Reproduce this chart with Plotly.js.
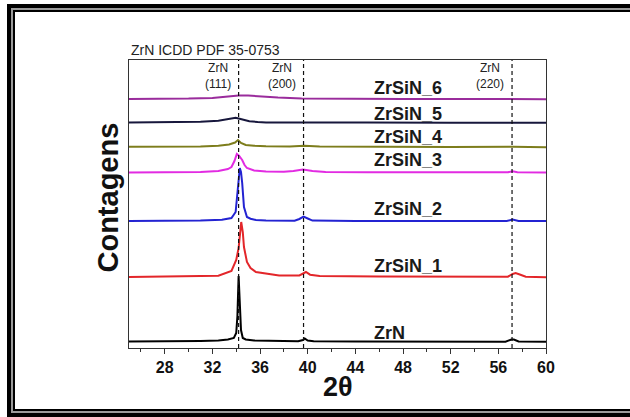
<!DOCTYPE html>
<html>
<head>
<meta charset="utf-8">
<script src="https://cdn.plot.ly/plotly-3.0.1.min.js"></script>
<style>
  html, body { margin: 0; padding: 0; background: #fff; overflow: hidden; }
  #chart { width: 630px; height: 417px; position: absolute; left: 0; top: 0; }
  #frame { position: absolute; left: 7px; top: 4px; width: 640px;
           border: 4px solid #000; box-sizing: border-box; height: 413px;
           box-shadow: inset 0 0 0 2px #9a9a9a, inset 0 0 0 4px #000; pointer-events: none; }
</style>
</head>
<body>
<div id="chart"></div>
<div id="frame"></div>
<script>
// 2θ positions and stacked intensities (arbitrary counts)
const zrnX  = [25, 27, 29, 31, 32.5, 33.3, 33.8, 34.0, 34.1, 34.2, 34.3, 34.4, 34.55, 34.8, 35.5, 37, 39.2, 39.6, 39.75, 40.0, 40.5, 44, 48, 52, 56.6, 57.1, 57.3, 57.7, 60];
const zrnY  = [6.5, 6.5, 6.8, 7, 7.5, 8.5, 10, 15, 32, 72, 45, 18, 10, 8.5, 7.5, 7, 6.8, 8, 9.5, 7.5, 6.8, 6.5, 6.5, 6.3, 6.3, 8.5, 8.5, 6.5, 6.3];

const s1X = [25, 28, 31, 32.5, 33.6, 34.0, 34.2, 34.3, 34.42, 34.55, 34.65, 34.9, 35.2, 35.65, 36.5, 37.6, 39.3, 39.65, 39.85, 40.2, 41, 46, 52, 56.8, 57.2, 57.45, 57.8, 58.3, 60];
const s1Y = [71, 71.3, 71.6, 72.3, 77, 88, 100, 115, 126, 116, 101, 86, 80, 76, 74.3, 72.5, 72.5, 75, 76, 73.3, 72, 71.5, 71.3, 71.3, 74, 75, 73.5, 71.3, 70.8];

const s2X = [25, 28, 31, 32.8, 33.6, 33.95, 34.1, 34.2, 34.3, 34.4, 34.5, 34.65, 34.9, 35.2, 35.65, 36.5, 38.9, 39.3, 39.65, 40.0, 40.4, 44, 50, 56.7, 57.2, 57.7, 60];
const s2Y = [127, 127.2, 127.5, 128.3, 130, 136, 155, 170, 180, 176, 165, 141, 131, 129.3, 128, 127.6, 127.3, 129, 131.3, 129.5, 127.4, 127, 127, 127, 128.5, 127, 127];

const s3X = [25, 28, 31, 32.5, 33.3, 33.6, 33.85, 34.05, 34.25, 34.5, 34.7, 34.9, 35.5, 36.5, 38.0, 38.8, 39.6, 40.4, 41.5, 45, 52, 56.8, 57.2, 57.6, 60];
const s3Y = [175.5, 175.6, 176, 177, 179, 181, 187, 194, 192, 188, 183, 180, 177.5, 176.5, 176.2, 177, 178.5, 177, 176, 175.8, 175.7, 175.7, 176.7, 175.7, 175.5];

const s4X = [25, 28, 31, 32.5, 33.4, 33.9, 34.15, 34.4, 34.8, 35.5, 36.5, 38.5, 39.7, 41, 46, 52, 57.2, 60];
const s4Y = [201.3, 201.3, 201.6, 202.3, 203.5, 205.5, 208, 205, 203, 202.3, 201.8, 201.6, 202.2, 201.4, 201.1, 200.9, 201.2, 200.7];

const s5X = [25, 28, 31, 32.5, 33.3, 33.95, 34.2, 34.6, 35.1, 35.8, 36.5, 38, 40, 45, 52, 60];
const s5Y = [225.5, 225.7, 226.3, 227.3, 228.8, 230.3, 229.5, 228, 226.8, 226, 225.5, 225.4, 225.5, 225.4, 225.3, 225.3];

const s6X = [25, 28, 30, 32, 33.5, 34.2, 35, 36, 37.5, 39.5, 42, 48, 54, 60];
const s6Y = [249, 249.1, 249.4, 250.1, 251.6, 252.5, 252.5, 251.5, 250.4, 249.6, 249.3, 249.1, 249, 248.8];

const seriesNames = ['ZrN', 'ZrSiN_1', 'ZrSiN_2', 'ZrSiN_3', 'ZrSiN_4', 'ZrSiN_5', 'ZrSiN_6'];
const seriesX = [zrnX, s1X, s2X, s3X, s4X, s5X, s6X];
const seriesY = [zrnY, s1Y, s2Y, s3Y, s4Y, s5Y, s6Y];
const seriesColors = ['#000000', '#e3262a', '#2323d2', '#e22be2', '#7d7d1c', '#17173c', '#9a2c9c'];

// ICDD 35-0753 reference reflections
const refPeaks = [34.2, 39.65, 57.15];
const refLabels = ['ZrN<br>(111)', 'ZrN<br>(200)', 'ZrN<br>(220)'];

const xTicks = [28, 32, 36, 40, 44, 48, 52, 56, 60];

const FONT = 'Arial, "Liberation Sans", sans-serif';

const traces = seriesNames.map((n, i) => ({
  x: seriesX[i], y: seriesY[i], name: n, type: 'scatter', mode: 'lines',
  line: { color: seriesColors[i], width: 2 }, hoverinfo: 'skip'
}));

const labelY = [15.3, 82.3, 138.7, 188, 210.7, 234, 259.7];
const annotations = [];
seriesNames.forEach((n, i) => {
  annotations.push({ x: 45.4, y: labelY[i], xref: 'x', yref: 'y', text: '<b>' + n + '</b>',
    showarrow: false, xanchor: 'left', yanchor: 'middle',
    font: { family: FONT, size: 18, color: '#1a1a1a' } });
});
refPeaks.forEach((p, i) => {
  annotations.push({ x: p - 0.5, y: 0.944, xref: 'x', yref: 'paper', text: refLabels[i],
    showarrow: false, xanchor: 'right', yanchor: 'middle', align: 'center',
    font: { family: FONT, size: 12, color: '#222' } });
});
annotations.push({ x: 0, y: 1.0, xref: 'paper', yref: 'paper', text: 'ZrN ICDD PDF 35-0753',
  showarrow: false, xanchor: 'left', yanchor: 'bottom', yshift: 0,
  font: { family: FONT, size: 14, color: '#222' } });
annotations.push({ x: -0.05, y: 0.523, xref: 'paper', yref: 'paper', text: '<b>Contagens</b>',
  textangle: -90, showarrow: false, xanchor: 'center', yanchor: 'middle',
  font: { family: FONT, size: 29, color: '#111' } });
annotations.push({ x: 0.502, y: -0.134, xref: 'paper', yref: 'paper', text: '<b>2θ</b>',
  showarrow: false, xanchor: 'center', yanchor: 'middle',
  font: { family: FONT, size: 27, color: '#111' } });

const shapes = refPeaks.map(p => ({
  type: 'line', xref: 'x', yref: 'paper', x0: p, x1: p, y0: 0, y1: 1,
  line: { color: '#111', width: 1.2, dash: '4px,3px' }
}));

const layout = {
  width: 630, height: 417,
  margin: { l: 128.5, r: 84, t: 60, b: 69 },
  paper_bgcolor: '#fff', plot_bgcolor: '#fff',
  showlegend: false,
  font: { family: FONT },
  xaxis: {
    range: [25, 60], tickvals: xTicks, ticktext: xTicks.map(String),
    ticks: 'outside', ticklen: 5, tickwidth: 1, tickcolor: '#333',
    minor: { dtick: 2, tick0: 0, ticks: 'outside', ticklen: 3, tickcolor: '#333', showgrid: false },
    showline: true, linecolor: '#333', linewidth: 1, mirror: true,
    showgrid: false, zeroline: false,
    tickfont: { family: FONT, size: 16, color: '#111', weight: 'bold' }
  },
  yaxis: {
    range: [0, 288], showticklabels: false, ticks: '',
    showline: true, linecolor: '#333', linewidth: 1, mirror: true,
    showgrid: false, zeroline: false
  },
  shapes: shapes,
  annotations: annotations
};

Plotly.newPlot('chart', traces, layout, { staticPlot: true, displayModeBar: false });
</script>
</body>
</html>
